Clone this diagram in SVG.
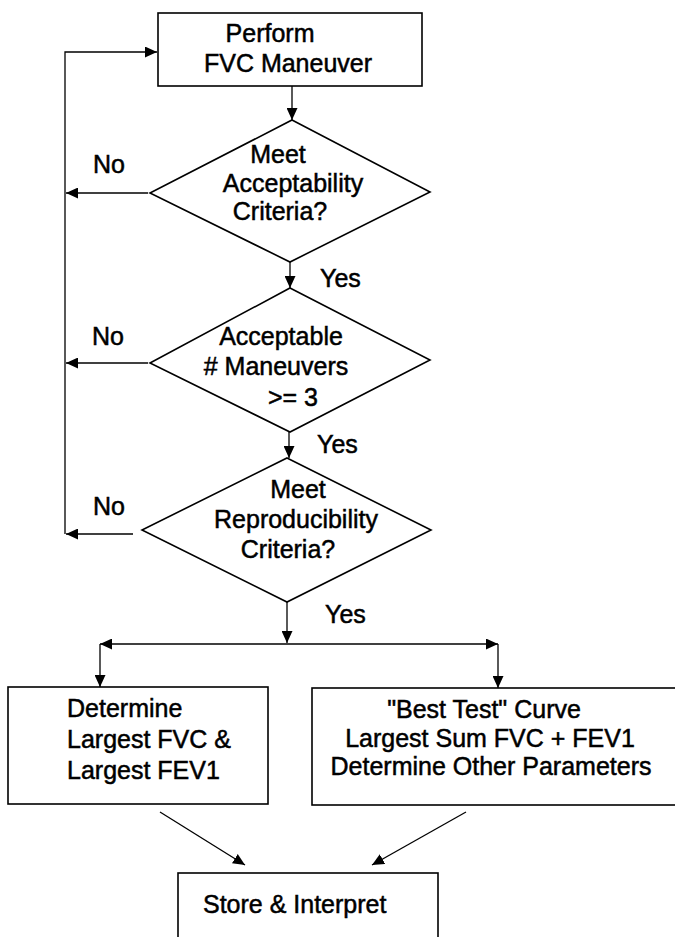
<svg xmlns="http://www.w3.org/2000/svg" width="675" height="937" viewBox="0 0 675 937">
<defs>
<style>
.shape{fill:#fff;stroke:#000;stroke-width:1.6}
.conn{fill:none;stroke:#000;stroke-width:1.3}
.t{font-family:"Liberation Sans",Arial,sans-serif;font-size:25px;fill:#000;stroke:#000;stroke-width:0.5}
.m{text-anchor:middle}
</style>
<marker id="ah" markerWidth="12" markerHeight="11" refX="12" refY="5.5" orient="auto-start-reverse" markerUnits="userSpaceOnUse">
<path d="M0,0 L12,5.5 L0,11 z" fill="#000"/>
</marker>
</defs>
<rect width="675" height="937" fill="#fff"/>
<g id="connectors">
<path class="conn" d="M65,534 V52 H157" marker-end="url(#ah)"/>
<path class="conn" d="M148,193 H66" marker-end="url(#ah)"/>
<path class="conn" d="M148,363 H66" marker-end="url(#ah)"/>
<path class="conn" d="M133,534 H66" marker-end="url(#ah)"/>
<path class="conn" d="M292,86 V120" marker-end="url(#ah)"/>
<path class="conn" d="M290,262 V288" marker-end="url(#ah)"/>
<path class="conn" d="M289,432 V458" marker-end="url(#ah)"/>
<path class="conn" d="M287,602 V643" marker-end="url(#ah)"/>
<path class="conn" d="M100,644 H498" marker-start="url(#ah)" marker-end="url(#ah)"/>
<path class="conn" d="M100,644 V687" marker-end="url(#ah)"/>
<path class="conn" d="M498,644 V688" marker-end="url(#ah)"/>
<path class="conn" d="M160,812 L245,865" marker-end="url(#ah)"/>
<path class="conn" d="M466,812 L372,865" marker-end="url(#ah)"/>
<text class="t" x="93" y="173">No</text>
<text class="t" x="92" y="345">No</text>
<text class="t" x="93" y="515">No</text>
<text class="t" x="320" y="287">Yes</text>
<text class="t" x="317" y="453">Yes</text>
<text class="t" x="325" y="623">Yes</text>
</g>
<g id="perform">
<rect class="shape" x="158" y="13" width="264" height="73"/>
<text class="t m" x="270" y="42">Perform</text>
<text class="t m" x="288" y="72">FVC Maneuver</text>
</g>
<g id="acceptability">
<polygon class="shape" points="292,120 430,192 290,262 150,193"/>
<text class="t m" x="278" y="163">Meet</text>
<text class="t m" x="293" y="192">Acceptability</text>
<text class="t m" x="280" y="220">Criteria?</text>
</g>
<g id="maneuvers">
<polygon class="shape" points="290,288 430,360 290,432 150,363"/>
<text class="t m" x="281" y="345">Acceptable</text>
<text class="t m" x="276" y="375"># Maneuvers</text>
<text class="t m" x="293" y="406">&gt;= 3</text>
</g>
<g id="reproducibility">
<polygon class="shape" points="287,458 431,530 287,602 142,530"/>
<text class="t m" x="298" y="498">Meet</text>
<text class="t m" x="296" y="528">Reproducibility</text>
<text class="t m" x="288" y="558">Criteria?</text>
</g>
<g id="largest">
<rect class="shape" x="8" y="687" width="260" height="117"/>
<text class="t" x="67" y="717">Determine</text>
<text class="t" x="67" y="748">Largest FVC &amp;</text>
<text class="t" x="67" y="779">Largest FEV1</text>
</g>
<g id="besttest">
<rect class="shape" x="312" y="688" width="364" height="117"/>
<text class="t m" x="484" y="718">"Best Test" Curve</text>
<text class="t m" x="490" y="747">Largest Sum FVC + FEV1</text>
<text class="t m" x="491" y="775">Determine Other Parameters</text>
</g>
<g id="store">
<rect class="shape" x="178" y="873" width="260" height="70"/>
<text class="t" x="203" y="913">Store &amp; Interpret</text>
</g>
</svg>
